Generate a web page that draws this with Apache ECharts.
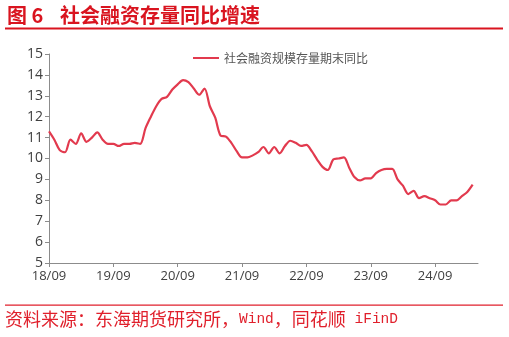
<!DOCTYPE html>
<html>
<head>
<meta charset="utf-8">
<script src="https://cdn.jsdelivr.net/npm/echarts@6/dist/echarts.min.js"></script>
<style>
html,body{margin:0;padding:0;background:#fff;}
#c{width:509px;height:337px;}
</style>
</head>
<body>
<div id="c"></div>
<script>
// Months from 2018-09 to 2025-05 (x axis runs one month past the last data point)
const months = [];
for (let y = 2018, m = 9; y < 2025 || (y === 2025 && m <= 5); m++) {
  if (m > 12) { m = 1; y++; }
  months.push(String(y).slice(2) + '/' + String(m).padStart(2, '0'));
}
const seriesName = '社会融资规模存量期末同比';
const tsfYoY = [
  11.3, 10.9, 10.4, 10.3, 10.9, 10.7, 11.2, 10.8, 11.0, 11.25, 10.9, 10.7,
  10.7, 10.6, 10.7, 10.7, 10.75, 10.7, 11.45, 12.0, 12.5, 12.85, 12.95, 13.3,
  13.55, 13.75, 13.65, 13.35, 13.05, 13.35, 12.5, 11.95, 11.1, 11.05, 10.75, 10.35,
  10.05, 10.05, 10.15, 10.3, 10.55, 10.25, 10.55, 10.25, 10.6, 10.85, 10.75, 10.6,
  10.65, 10.35, 9.95, 9.6, 9.45, 9.95, 10.0, 10.05, 9.55, 9.1, 8.95, 9.05,
  9.05, 9.3, 9.45, 9.5, 9.5, 9.0, 8.7, 8.3, 8.45, 8.1, 8.2, 8.1,
  8.0, 7.8, 7.8, 8.0, 8.0, 8.2, 8.4, 8.75, null
];
const yMin = 5, yMax = 15, yStep = 1;
const titleNo = '图 6';
const titleText = '社会融资存量同比增速';

const chart = echarts.init(document.getElementById('c'), null, {renderer: 'canvas'});
chart.setOption({
  animation: false,
  backgroundColor: '#ffffff',
  graphic: [
    {type: 'text', left: 7, top: 5, style: {text: titleNo, fill: '#d9141f',
      font: 'bold 20px "Noto Sans CJK SC"'}},
    {type: 'text', left: 60, top: 5, style: {text: titleText, fill: '#d9141f',
      font: 'bold 20px "Noto Sans CJK SC"'}},
    {type: 'rect', shape: {x: 5, y: 27.5, width: 498, height: 2}, style: {fill: '#d9141f'}},
    {type: 'rect', shape: {x: 5, y: 304.5, width: 498, height: 1.3}, style: {fill: '#e0202c'}},
    {type: 'text', left: 5, top: 310, style: {
      rich: {
        c: {fill: '#e0202c', fontSize: 18, fontFamily: '"Noto Sans CJK SC"'},
        l: {fill: '#e0202c', fontSize: 14.5, fontFamily: '"Liberation Mono"'}
      },
      text: '{c|资料来源：东海期货研究所，}{l|Wind}{c|，同花顺}{l| iFinD}'
    }}
  ],
  legend: {
    top: 47, left: 188,
    itemWidth: 26, itemHeight: 2, itemGap: 6,
    icon: 'rect',
    textStyle: {fontSize: 12, color: '#555', fontFamily: '"Noto Sans CJK SC"'},
    data: [seriesName]
  },
  grid: {left: 49, right: 31, top: 54, bottom: 74, containLabel: false},
  xAxis: {
    type: 'category',
    data: months,
    boundaryGap: false,
    axisLine: {lineStyle: {color: '#8c8c8c', width: 1}},
    axisTick: {show: true, interval: 11, length: 4, lineStyle: {color: '#8c8c8c'}},
    axisLabel: {interval: 11, color: '#404040', fontSize: 13, margin: 7,
      fontFamily: '"Open Sans"'},
    splitLine: {show: false}
  },
  yAxis: {
    type: 'value',
    min: yMin, max: yMax, interval: yStep,
    axisLine: {show: true, lineStyle: {color: '#8c8c8c', width: 1}},
    axisTick: {show: true, length: 4, lineStyle: {color: '#8c8c8c'}},
    axisLabel: {color: '#404040', fontSize: 14, margin: 6, fontFamily: '"Open Sans"'},
    splitLine: {show: false}
  },
  series: [{
    name: seriesName,
    type: 'line',
    data: tsfYoY,
    smooth: 0.3,
    showSymbol: false,
    symbol: 'none',
    lineStyle: {color: '#e23a4e', width: 2.2},
    itemStyle: {color: '#e23a4e'}
  }]
});
</script>
</body>
</html>
